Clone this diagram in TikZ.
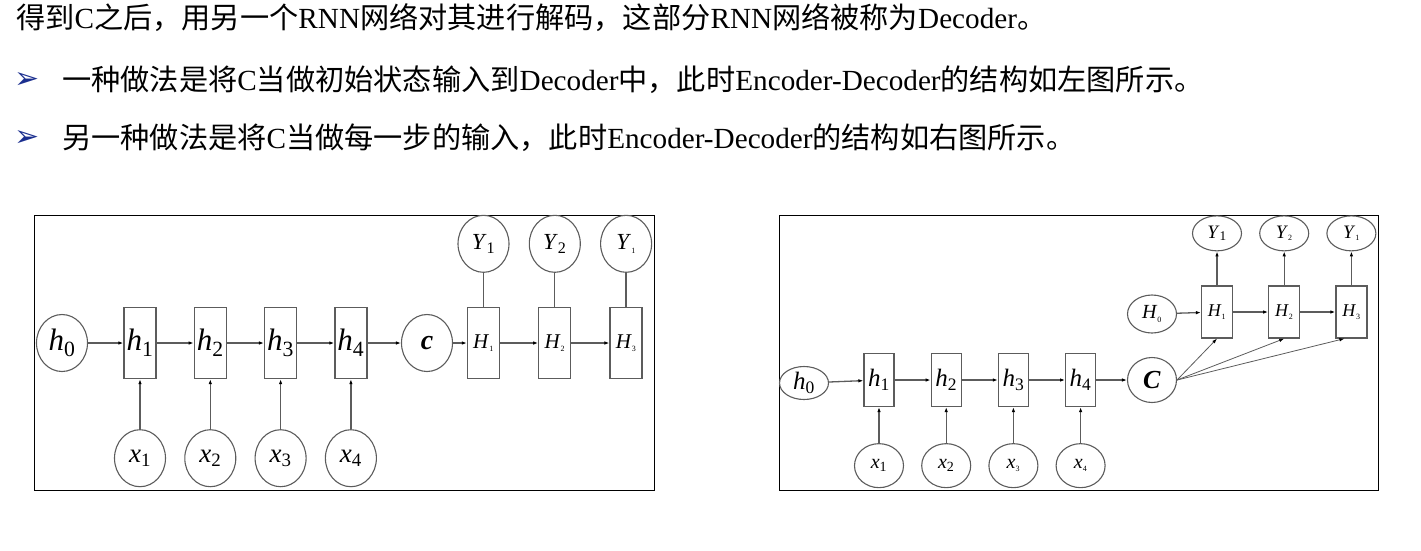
\documentclass[tikz,border=0pt]{standalone}
\usepackage{fontspec}
\setmainfont{Liberation Serif}
\newfontfamily\cjk{Noto Sans CJK SC}
\newfontfamily\symb{DejaVu Sans}
\usetikzlibrary{shapes.geometric,arrows.meta,positioning}
\definecolor{Wire}{HTML}{5C5C5C}
\definecolor{Navy}{HTML}{1B2F8F}
\newcommand{\vlab}[2]{\textit{#1}\textsubscript{#2}}
\newcommand{\tsub}[2]{\textit{#1}\textsubscript{\fontsize{8}{8}\selectfont #2}}

\begin{document}
\begin{tikzpicture}[x=1pt,y=-1pt, every node/.style={inner sep=0pt},
  para/.style={anchor=base west,font=\fontsize{29.2}{32}\selectfont},
  bullet/.style={text=Navy,font=\symb\fontsize{30}{30}\selectfont},
  cell/.style={draw=Wire,line width=1.3pt,fill=white,minimum width=32pt,minimum height=71pt},
  rcell/.style={draw=Wire,line width=1.2pt,fill=white,minimum width=30pt,minimum height=53pt},
  unit/.style={ellipse,draw=Wire,line width=1.1pt,minimum width=51pt,minimum height=57pt},
  runit/.style={ellipse,draw=Wire,line width=1.1pt,minimum width=49pt,minimum height=#1},
  link/.style={draw=Wire,line width=1.3pt,-{Latex[length=5pt,width=3.5pt,color=black]}},
  tie/.style={draw=Wire,line width=1.3pt},
  frame/.style={draw=black,line width=1pt}]
  \useasboundingbox (0,0) rectangle (1421,550);

  % text above the pictures
  \node[para] (t1) at (16,28) {{\cjk 得到}C{\cjk 之后，用另一个}RNN{\cjk 网络对其进行解码，这部分}RNN{\cjk 网络被称为}Decoder{\cjk 。}};
  \node[bullet] (b2) at (27,80) {➢};
  \node[para] (t2) at (62,90) {{\cjk 一种做法是将}C{\cjk 当做初始状态输入到}Decoder{\cjk 中，此时}Encoder-Decoder{\cjk 的结构如左图所示。}};
  \node[bullet] (b3) at (27,138) {➢};
  \node[para] (t3) at (62,148) {{\cjk 另一种做法是将}C{\cjk 当做每一步的输入，此时}Encoder-Decoder{\cjk 的结构如右图所示。}};

  % left: C as initial state
  \draw[frame] (34,215) rectangle (654,490);
  \node[unit,font=\fontsize{31}{31}\selectfont] (h0) at (62,343) {\vlab{h}{0}};
  \node[cell,font=\fontsize{31}{31}\selectfont] (h1) at (140,343) {\vlab{h}{1}};
  \node[cell,font=\fontsize{31}{31}\selectfont,right=37pt of h1] (h2) {\vlab{h}{2}};
  \node[cell,font=\fontsize{31}{31}\selectfont,right=37pt of h2] (h3) {\vlab{h}{3}};
  \node[cell,font=\fontsize{31}{31}\selectfont,right=37pt of h3] (h4) {\vlab{h}{4}};
  \node[unit,font=\fontsize{27}{27}\selectfont,below=50pt of h1] (x1) {\vlab{x}{1}};
  \node[unit,font=\fontsize{27}{27}\selectfont,below=50pt of h2] (x2) {\vlab{x}{2}};
  \node[unit,font=\fontsize{27}{27}\selectfont,below=50pt of h3] (x3) {\vlab{x}{3}};
  \node[unit,font=\fontsize{27}{27}\selectfont,below=50pt of h4] (x4) {\vlab{x}{4}};
  \node[unit,font=\fontsize{28}{28}\selectfont] (c) at (427,343) {\textbf{\textit{c}}};
  \node[cell,font=\fontsize{21}{21}\selectfont] (H1) at (483.5,343) {\tsub{H}{1}};
  \node[cell,font=\fontsize{21}{21}\selectfont,right=38pt of H1] (H2) {\tsub{H}{2}};
  \node[cell,font=\fontsize{21}{21}\selectfont,right=38pt of H2] (H3) {\tsub{H}{3}};
  \node[unit,font=\fontsize{23}{23}\selectfont,above=34pt of H1] (y1) {\vlab{Y}{1}};
  \node[unit,font=\fontsize{23}{23}\selectfont,above=34pt of H2] (y2) {\vlab{Y}{2}};
  \node[unit,font=\fontsize{23}{23}\selectfont,above=34pt of H3] (y3) {\tsub{Y}{1}};
  \draw[link] (h0) -- (h1);
  \draw[link] (h1) -- (h2);
  \draw[link] (h2) -- (h3);
  \draw[link] (h3) -- (h4);
  \draw[link] (h4) -- (c);
  \draw[link] (c) -- (H1);
  \draw[link] (H1) -- (H2);
  \draw[link] (H2) -- (H3);
  \draw[link] (x1) -- (h1);
  \draw[link] (x2) -- (h2);
  \draw[link] (x3) -- (h3);
  \draw[link] (x4) -- (h4);
  \draw[tie] (H1) -- (y1);
  \draw[tie] (H2) -- (y2);
  \draw[tie] (H3) -- (y3);

  % right: C fed to every step
  \draw[frame] (779,215) rectangle (1378,490);
  \node[runit=33pt,font=\fontsize{25}{25}\selectfont] (rh0) at (804,383) {\vlab{h}{0}};
  \node[rcell,font=\fontsize{25}{25}\selectfont] (rh1) at (879,380) {\vlab{h}{1}};
  \node[rcell,font=\fontsize{25}{25}\selectfont,right=36pt of rh1] (rh2) {\vlab{h}{2}};
  \node[rcell,font=\fontsize{25}{25}\selectfont,right=36pt of rh2] (rh3) {\vlab{h}{3}};
  \node[rcell,font=\fontsize{25}{25}\selectfont,right=36pt of rh3] (rh4) {\vlab{h}{4}};
  \node[runit=44pt,font=\fontsize{20}{20}\selectfont,below=36pt of rh1] (rx1) {\vlab{x}{1}};
  \node[runit=44pt,font=\fontsize{20}{20}\selectfont,below=36pt of rh2] (rx2) {\vlab{x}{2}};
  \node[runit=44pt,font=\fontsize{20}{20}\selectfont,below=36pt of rh3] (rx3) {\tsub{x}{3}};
  \node[runit=44pt,font=\fontsize{20}{20}\selectfont,below=36pt of rh4] (rx4) {\tsub{x}{4}};
  \node[runit=45pt,font=\fontsize{26}{26}\selectfont] (rc) at (1152,380) {\textbf{\textit{C}}};
  \node[runit=38pt,font=\fontsize{20}{20}\selectfont] (rH0) at (1152,314) {\tsub{H}{0}};
  \node[rcell,minimum width=31pt,minimum height=52pt,font=\fontsize{18}{18}\selectfont] (rH1) at (1217,312) {\tsub{H}{1}};
  \node[rcell,minimum width=31pt,minimum height=52pt,font=\fontsize{18}{18}\selectfont,right=35pt of rH1] (rH2) {\tsub{H}{2}};
  \node[rcell,minimum width=31pt,minimum height=52pt,font=\fontsize{18}{18}\selectfont,right=35pt of rH2] (rH3) {\tsub{H}{3}};
  \node[runit=35pt,font=\fontsize{19}{19}\selectfont,above=34pt of rH1] (ry1) {\vlab{Y}{1}};
  \node[runit=35pt,font=\fontsize{19}{19}\selectfont,above=34pt of rH2] (ry2) {\tsub{Y}{2}};
  \node[runit=35pt,font=\fontsize{19}{19}\selectfont,above=34pt of rH3] (ry3) {\tsub{Y}{1}};
  \draw[link] (rh0) -- (rh1);
  \draw[link] (rh1) -- (rh2);
  \draw[link] (rh2) -- (rh3);
  \draw[link] (rh3) -- (rh4);
  \draw[link] (rh4) -- (rc);
  \draw[link] (rx1) -- (rh1);
  \draw[link] (rx2) -- (rh2);
  \draw[link] (rx3) -- (rh3);
  \draw[link] (rx4) -- (rh4);
  \draw[link] (rH0) -- (rH1);
  \draw[link] (rH1) -- (rH2);
  \draw[link] (rH2) -- (rH3);
  \draw[link] (rH1) -- (ry1);
  \draw[link] (rH2) -- (ry2);
  \draw[link] (rH3) -- (ry3);
  \draw[link,line width=0.8pt] (rc.east) -- (rH1.south);
  \draw[link,line width=0.8pt] (rc.east) -- (rH2.south);
  \draw[link,line width=0.8pt] (rc.east) -- ([xshift=-7pt]rH3.south);
\end{tikzpicture}
\end{document}
